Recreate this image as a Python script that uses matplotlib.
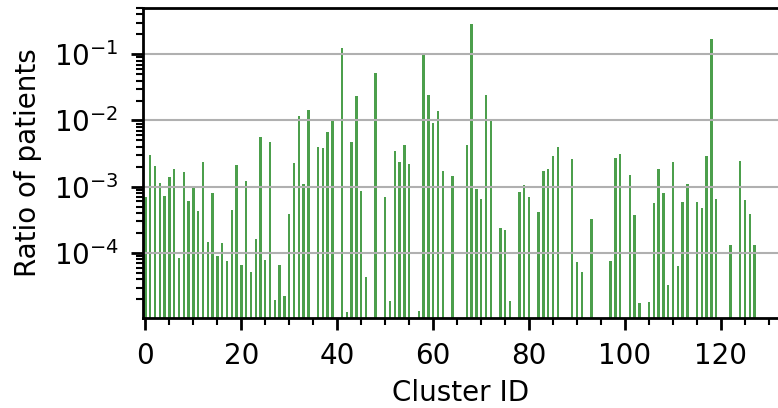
import matplotlib
matplotlib.use("Agg")
import matplotlib.pyplot as plt
import numpy as np
from matplotlib.ticker import MultipleLocator, LogLocator, NullFormatter

# Cluster IDs present and their ratio of patients
cluster_ids = [
    0, 1, 2, 3, 4, 5, 6, 7, 8, 9, 10, 11, 12, 13, 14, 15, 16, 17, 18, 19,
    20, 21, 22, 23, 24, 25, 26, 27, 28, 29, 30, 31, 32, 33, 34, 36, 37, 38, 39,
    41, 42, 43, 44, 45, 46, 48, 50, 51, 52, 53, 54, 55, 57, 58, 59, 60, 61, 62,
    64, 67, 68, 69, 70, 71, 72, 74, 75, 76, 78, 79, 80, 82, 83, 84, 85, 86,
    89, 90, 91, 93, 97, 98, 99, 101, 102, 103, 105, 106, 107, 108, 109, 110,
    111, 112, 113, 115, 116, 117, 118, 119, 122, 124, 125, 126, 127,
]
ratios = [
    7.0e-4, 3.05e-3, 2.03e-3, 1.15e-3, 7.3e-4, 1.42e-3, 1.87e-3, 8.5e-5, 1.69e-3, 6.1e-4,
    1.03e-3, 4.3e-4, 2.39e-3, 1.47e-4, 7.9e-4, 9.0e-5, 1.42e-4, 7.6e-5, 4.5e-4, 2.15e-3,
    6.6e-5, 1.22e-3, 5.1e-5, 1.63e-4, 5.7e-3, 7.8e-5, 4.8e-3, 1.94e-5, 6.6e-5, 2.23e-5,
    3.9e-4, 2.31e-3, 1.15e-2, 1.11e-3, 1.42e-2, 4.0e-3, 3.9e-3, 6.8e-3, 9.7e-3,
    0.123, 1.28e-5, 4.8e-3, 2.31e-2, 8.7e-4, 4.3e-5, 5.15e-2, 7.0e-4, 1.87e-5, 3.5e-3,
    2.39e-3, 4.3e-3, 2.23e-3, 1.32e-5, 9.7e-2, 2.39e-2, 9.3e-3, 1.37e-2, 1.74e-3,
    1.47e-3, 4.3e-3, 0.285, 9.3e-4, 6.6e-4, 2.39e-2, 9.7e-3, 2.39e-4, 2.23e-4, 1.87e-5,
    8.4e-4, 1.07e-3, 7.0e-4, 4.2e-4, 1.74e-3, 1.87e-3, 2.95e-3, 4.0e-3,
    2.65e-3, 7.3e-5, 5.1e-5, 3.2e-4, 7.6e-5, 2.75e-3, 3.16e-3, 1.52e-3, 3.8e-4, 1.75e-5,
    1.81e-5, 5.7e-4, 1.87e-3, 8.1e-4, 3.3e-5, 2.39e-3, 6.4e-5, 5.9e-4, 1.11e-3, 5.9e-4,
    4.8e-4, 2.95e-3, 0.169, 6.6e-4, 1.32e-4, 2.48e-3, 6.4e-4, 3.9e-4, 1.32e-4,
]

fig = plt.figure(figsize=(7.78, 4.08), dpi=100)
ax = fig.add_axes([143 / 778, 1 - 318 / 408, 1 - 143 / 778, 310 / 408])

ax.bar(cluster_ids, ratios, width=0.5, color="#4c9f4c")
ax.set_yscale("log")
ax.set_ylim(1.04e-5, 0.5)
ax.set_xlim(-0.5, 131.9)

ax.yaxis.grid(True, which="major", color="#b0b0b0", linewidth=1.5)
ax.xaxis.set_major_locator(MultipleLocator(20))
ax.xaxis.set_minor_locator(MultipleLocator(5))
ax.yaxis.set_major_locator(LogLocator(base=10, numticks=10))
ax.yaxis.set_minor_locator(LogLocator(base=10, subs=np.arange(2, 10), numticks=10))
ax.yaxis.set_minor_formatter(NullFormatter())

for side in ["left", "bottom", "top"]:
    ax.spines[side].set_linewidth(2)
ax.spines["right"].set_visible(False)

ax.tick_params(which="major", length=8.5, width=2, labelsize=20, pad=9)
ax.tick_params(which="minor", length=5, width=1.5)

ax.set_xlabel("Cluster ID", fontsize=20, labelpad=6)
ax.set_ylabel("Ratio of patients", fontsize=20, labelpad=8)

fig.savefig("out.png", dpi=100)
